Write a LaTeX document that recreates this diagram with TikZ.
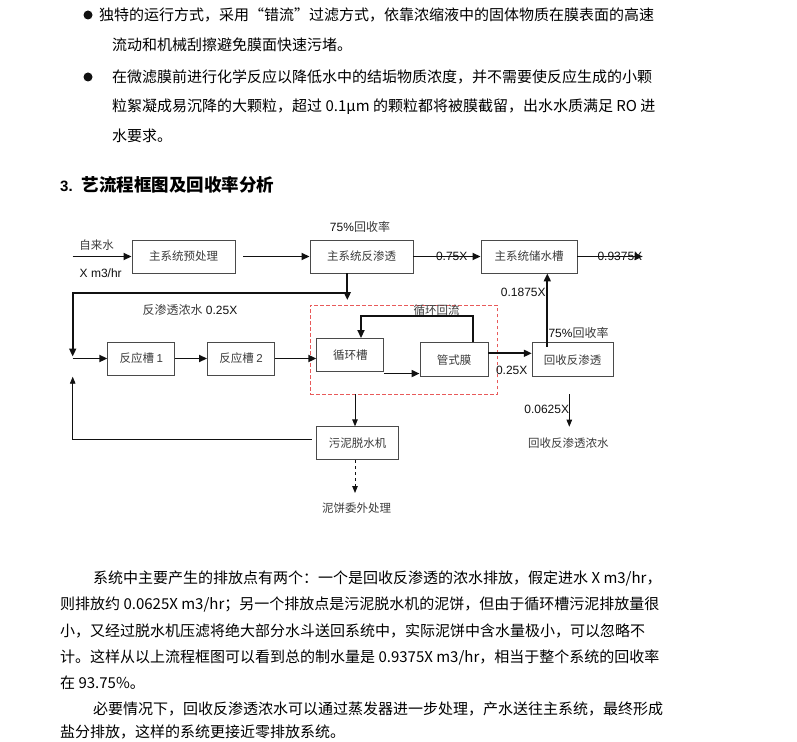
\documentclass[tikz,border=0pt]{standalone}
\usepackage{fontspec}
\setmainfont{Liberation Sans}
\newfontfamily\cjk{Noto Sans CJK SC}
\usetikzlibrary{arrows.meta,calc}
\definecolor{ink}{HTML}{111111}
\definecolor{boxline}{HTML}{4A4A4A}
\definecolor{label}{HTML}{3C3C3C}
\definecolor{loopred}{HTML}{E85A5A}
\tikzset{
  unitbox/.style={draw=boxline,line width=0.9pt,minimum width=#1,minimum height=33,
                  inner sep=0pt,font=\cjk\fontsize{11.5}{13}\selectfont,text=label},
  loopbox/.style={draw=loopred,line width=1pt,dash pattern=on 3.5pt off 2.5pt,inner sep=0pt},
  flow/.style={-{Triangle[length=8pt,width=7pt]},line width=1.7pt,color=ink},
  thinflow/.style={-{Triangle[length=7pt,width=5.5pt]},line width=0.9pt,color=ink},
  note/.style={font=\fontsize{12}{14}\selectfont,inner sep=0pt,text=ink},
  cnote/.style={font=\cjk\fontsize{11.5}{13}\selectfont,inner sep=0pt,text=label},
  textline/.style={anchor=west,inner sep=0pt,font=\cjk\fontsize{15}{18}\selectfont},
}

\begin{document}
\begin{tikzpicture}[x=1pt,y=-1pt]
  \useasboundingbox[fill=white] (0,0) rectangle (797,741);

  % text above the chart
  \node[circle,fill=ink,inner sep=0pt,minimum size=9] (dot1) at (88,15) {};
  \node[circle,fill=ink,inner sep=0pt,minimum size=9] (dot2) at (88,77) {};
  \foreach \x/\y/\t in {
    99/15/{独特的运行方式，采用“错流”过滤方式，依靠浓缩液中的固体物质在膜表面的高速},
    112/45/{流动和机械刮擦避免膜面快速污堵。},
    112/77/{在微滤膜前进行化学反应以降低水中的结垢物质浓度，并不需要使反应生成的小颗},
    112/107/{粒絮凝成易沉降的大颗粒，超过 0.1μm 的颗粒都将被膜截留，出水水质满足 RO 进},
    112/136/{水要求。}%
  }{
    \node[textline] (top\y) at (\x,\y) {\t};
  }
  \node[anchor=west,inner sep=0pt,font=\cjk\bfseries\fontsize{17.5}{20}\selectfont] (head) at (60,185)
    {{\rmfamily\bfseries\fontsize{15}{18}\selectfont 3.}\hspace{9pt}艺流程框图及回收率分析};

  % chart
  \node[loopbox,minimum width=187.3,minimum height=89] (loop) at (403.7,349.5) {};
  \node[unitbox=103] (pre) at (183.5,256.5) {主系统预处理};
  \node[unitbox=103] (ro) at (361.5,256.5) {主系统反渗透};
  \node[unitbox=96] (store) at (529,256.5) {主系统储水槽};
  \node[unitbox=67] (rt1) at (141.3,358.5) {反应槽 {\rmfamily 1}};
  \node[unitbox=67] (rt2) at (241,358.5) {反应槽 {\rmfamily 2}};
  \node[unitbox=67] (tank) at (350.3,355) {循环槽};
  \node[unitbox=68,minimum height=34] (tube) at (454,359.7) {管式膜};
  \node[unitbox=81,minimum height=34] (rro) at (572.7,359.7) {回收反渗透};
  \node[unitbox=82] (press) at (357.5,443.3) {污泥脱水机};

  \node[cnote] (tap) at (96.7,245) {自来水};
  \node[note] (rate) at (100.7,273) {X m3/hr};
  \node[note] (rec1) at (360,226.7) {75\%{\cjk\color{label}回收率}};
  \node[note] (conc) at (190,310) {{\cjk\color{label}反渗透浓水} 0.25X};
  \node[cnote] (recirc) at (436.7,310) {循环回流};
  \node[note] (back) at (523.3,292.3) {0.1875X};
  \node[note,anchor=west] (rec2) at (548.3,332.5) {75\%{\cjk\color{label}回收率}};
  \node[note] (feedq) at (511.7,370.7) {0.25X};
  \node[note] (rejq) at (546.7,409.3) {0.0625X};
  \node[cnote] (brine) at (568.3,443.3) {回收反渗透浓水};
  \node[cnote] (cake) at (356.7,508) {泥饼委外处理};

  \coordinate (feed) at (72.7,256.5);
  \coordinate (product) at (642.7,256.5);
  \coordinate (split) at (347.3,293);
  \coordinate (drop) at (347.3,300);
  \coordinate (mix) at (72.7,358.5);
  \coordinate (ret) at (472.7,316);
  \coordinate (turn) at (361,316);
  \coordinate (rise) at (547.3,346.7);
  \coordinate (rej) at (569.3,394);
  \coordinate (rejend) at (569.3,426.7);
  \coordinate (sl) at (355,394);
  \coordinate (slend) at (355,493);
  \coordinate (retn) at (311.7,439);
  \coordinate (retup) at (72.7,376.7);
  \coordinate (cyc) at ($(tank.south east)+(0,1.6)$);

  \draw[flow] (feed) -- (pre.west);
  \draw[flow] ([xshift=8]pre.east) -- (ro.west);
  \draw[flow] (ro.east) -- node[note,pos=0.57]{0.75X} (store.west);
  \draw[flow] (store.east) -- node[note,pos=0.65]{0.9375X} (product);
  \draw[flow] (ro.south -| drop) -- (drop);
  \draw[flow] (split) -- (split -| mix) -- ([yshift=2]mix);
  \draw[flow] (mix) -- (rt1.west);
  \draw[flow] (rt1) -- (rt2);
  \draw[flow] (rt2.east) -- (rt2.east -| tank.west);
  \draw[flow] (cyc) -- (cyc -| tube.west);
  \draw[flow] (tube.north -| ret) -- (ret) -- (turn) -- (turn |- tank.north);
  \draw[flow] ([yshift=6.4]tube.east) -- ([yshift=6.4]rro.west);
  \draw[flow] (rise) -- (rise |- store.south);
  \draw[thinflow] (rej) -- (rejend);
  \draw[thinflow] (sl) -- (sl |- press.north);
  \draw[thinflow] (retn) -- (retn -| retup) -- (retup);
  \draw[thinflow,dashed] (press.south -| sl) -- (slend);

  % text below the chart
  \foreach \x/\y/\t in {
    93/578/{系统中主要产生的排放点有两个：一个是回收反渗透的浓水排放，假定进水 X m3/hr，},
    60/605/{则排放约 0.0625X m3/hr；另一个排放点是污泥脱水机的泥饼，但由于循环槽污泥排放量很},
    60/631/{小，又经过脱水机压滤将绝大部分水斗送回系统中，实际泥饼中含水量极小，可以忽略不},
    60/657/{计。这样从以上流程框图可以看到总的制水量是 0.9375X m3/hr，相当于整个系统的回收率},
    60/683/{在 93.75\%。},
    93/709/{必要情况下，回收反渗透浓水可以通过蒸发器进一步处理，产水送往主系统，最终形成},
    60/732/{盐分排放，这样的系统更接近零排放系统。}%
  }{
    \node[textline] (low\y) at (\x,\y) {\t};
  }
\end{tikzpicture}
\end{document}
